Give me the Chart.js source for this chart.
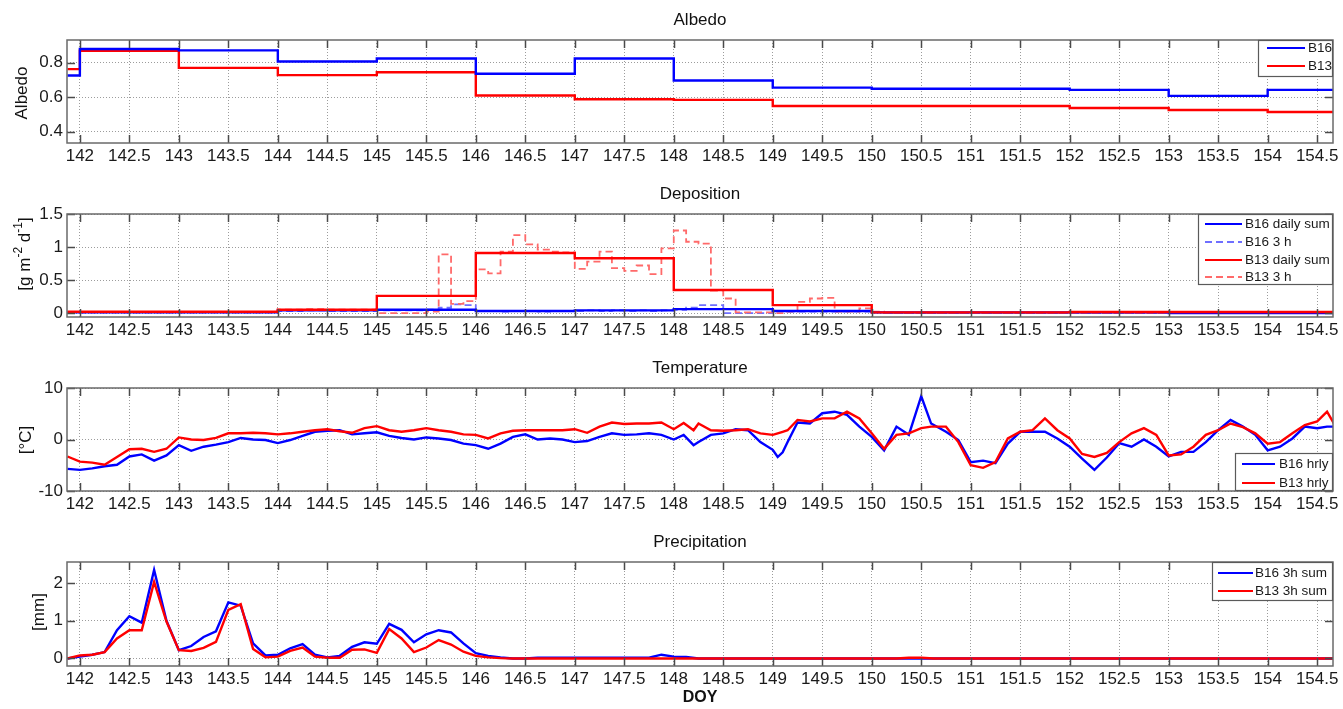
<!DOCTYPE html>
<html>
<head>
<meta charset="utf-8">
<script src="https://cdn.jsdelivr.net/npm/chart.js@4.4.1/dist/chart.umd.min.js"></script>
<style>
    body { margin: 0; background: #fff; width: 1343px; height: 709px; overflow: hidden; position: relative; }
    .panel { position: absolute; left: 0; width: 1343px; }
</style>
</head>
<body>
<div class="panel" style="top:0px"><canvas id="graficoAlbedo" width="1343" height="170"></canvas></div>
<div class="panel" style="top:174px"><canvas id="graficoDeposicion" width="1343" height="170"></canvas></div>
<div class="panel" style="top:348px"><canvas id="graficoTemperatura" width="1343" height="170"></canvas></div>
<div class="panel" style="top:522px"><canvas id="graficoPrecipitacion" width="1343" height="187"></canvas></div>
<script>
// eje x comun (DOY)
var X_MIN = 141.87, X_MAX = 154.66;
var ticksX = [142, 142.5, 143, 143.5, 144, 144.5, 145, 145.5, 146, 146.5, 147, 147.5, 148, 148.5,
    149, 149.5, 150, 150.5, 151, 151.5, 152, 152.5, 153, 153.5, 154, 154.5];

// Albedo (valor diario, escalon)
var albedoDias = [141.875, 142, 143, 144, 145, 146, 147, 148, 149, 150, 151, 152, 153, 154, 155];
var albedoB16 = [0.725, 0.878, 0.870, 0.806, 0.823, 0.735, 0.823, 0.696, 0.655, 0.648, 0.648, 0.642, 0.607, 0.642, 0.642];
var albedoB13 = [0.762, 0.868, 0.769, 0.727, 0.744, 0.609, 0.588, 0.584, 0.549, 0.549, 0.549, 0.537, 0.526, 0.514, 0.514];
var ticksAlbedo = [0.4, 0.6, 0.8];

// Deposicion: suma diaria
var depDias = [141.875, 142, 143, 144, 145, 146, 147, 148, 149, 150, 151, 152, 153, 154, 155];
var depB16Diaria = [0.01, 0.01, 0.01, 0.04, 0.05, 0.03, 0.04, 0.06, 0.03, 0.01, 0.01, 0.01, 0.0, 0.0, 0.0];
var depB13Diaria = [0.02, 0.02, 0.02, 0.05, 0.26, 0.91, 0.83, 0.35, 0.12, 0.01, 0.01, 0.015, 0.015, 0.015, 0.015];
// Deposicion: 3 h
var dep3hDias = [141.875, 144, 144.25, 144.5, 145, 145.5, 145.625, 145.75, 145.875, 146, 146.125, 146.25,
    146.375, 146.5, 146.625, 146.75, 146.875, 147, 147.125, 147.25, 147.375, 147.5, 147.625, 147.75,
    147.875, 148, 148.125, 148.25, 148.375, 148.5, 148.625, 149, 149.125, 149.25, 149.375, 149.5,
    149.625, 149.75, 149.875, 150, 150.125, 155];
var depB16_3h = [0.01, 0.03, 0.04, 0.03, 0.04, 0.05, 0.08, 0.13, 0.12, 0.03, 0.03, 0.02,
    0.03, 0.03, 0.02, 0.03, 0.03, 0.03, 0.04, 0.03, 0.04, 0.03, 0.04, 0.03,
    0.04, 0.05, 0.08, 0.12, 0.12, 0.0, 0.0, 0.03, 0.02, 0.02, 0.02, 0.02,
    0.02, 0.02, 0.02, 0.01, 0.0, 0.0];
var depB13_3h = [0.01, 0.05, 0.06, 0.05, 0.0, 0.02, 0.89, 0.14, 0.18, 0.66, 0.60, 0.93,
    1.18, 1.04, 0.96, 0.93, 0.92, 0.67, 0.78, 0.93, 0.68, 0.64, 0.72, 0.59,
    0.98, 1.25, 1.08, 1.05, 0.34, 0.22, 0.01, 0.0, 0.02, 0.17, 0.22, 0.23,
    0.02, 0.02, 0.07, 0.02, 0.0, 0.0];
var ticksDep = [0, 0.5, 1, 1.5];

// Temperatura horaria
var tempDias = [141.875, 142, 142.125, 142.25, 142.375, 142.5, 142.625, 142.75, 142.875, 143,
    143.125, 143.25, 143.375, 143.5, 143.625, 143.75, 143.875, 144, 144.125, 144.25,
    144.375, 144.5, 144.625, 144.75, 144.875, 145, 145.125, 145.25, 145.375, 145.5,
    145.625, 145.75, 145.875, 146, 146.125, 146.25, 146.375, 146.5, 146.625, 146.75,
    146.875, 147, 147.125, 147.25, 147.375, 147.5, 147.625, 147.75, 147.875, 148,
    148.1, 148.2, 148.25, 148.375, 148.5, 148.625, 148.75, 148.875, 149, 149.05,
    149.1, 149.15, 149.25, 149.375, 149.5, 149.625, 149.75, 149.875, 150, 150.125,
    150.25, 150.375, 150.5, 150.6, 150.75, 150.875, 151, 151.125, 151.25, 151.375,
    151.5, 151.625, 151.75, 151.875, 152, 152.125, 152.25, 152.375, 152.5, 152.625,
    152.75, 152.875, 153, 153.125, 153.25, 153.375, 153.5, 153.625, 153.75, 153.875,
    154, 154.125, 154.25, 154.375, 154.5, 154.6, 154.67];
var tempB16 = [-5.7, -5.9, -5.6, -5.2, -4.9, -3.3, -2.9, -4.1, -3.1, -1.1,
    -2.2, -1.4, -1.0, -0.5, 0.3, 0.0, -0.1, -0.7, -0.1, 0.7,
    1.5, 1.7, 1.8, 1.0, 1.2, 1.4, 0.7, 0.3, 0.0, 0.4,
    0.2, -0.1, -0.8, -1.1, -1.8, -0.8, 0.5, 1.0, 0.0, 0.2,
    0.0, -0.5, -0.3, 0.5, 1.2, 0.9, 1.0, 1.2, 0.9, 0.0,
    0.9, -1.1, -0.5, 0.9, 1.2, 2.0, 1.8, -0.5, -2.0, -3.4,
    -2.5, -0.5, 3.3, 3.1, 5.1, 5.4, 4.8, 2.5, 0.5, -2.1,
    2.5, 0.9, 8.4, 3.1, 1.5, -0.1, -4.4, -4.1, -4.6, -0.8,
    1.5, 1.5, 1.5, 0.2, -1.4, -3.7, -5.9, -3.5, -0.7, -1.4,
    0.0, -1.4, -3.3, -2.4, -2.4, -0.5, 1.8, 3.8, 2.5, 0.9,
    -2.1, -1.4, 0.2, 2.5, 2.2, 2.5, 2.5];
var tempB13 = [-3.3, -4.3, -4.5, -4.9, -3.4, -1.9, -1.8, -2.4, -1.8, 0.4,
    0.0, -0.1, 0.3, 1.2, 1.2, 1.3, 1.2, 1.0, 1.2, 1.5,
    1.8, 2.0, 1.6, 1.3, 2.2, 2.6, 1.8, 1.5, 1.8, 2.2,
    1.8, 1.5, 1.0, 0.9, 0.2, 1.2, 1.7, 1.8, 1.8, 1.8,
    1.8, 2.0, 1.3, 2.5, 3.3, 3.0, 3.1, 3.1, 3.3, 2.0,
    3.2, 1.8, 3.1, 1.8, 1.7, 1.8, 2.0, 1.2, 0.9, 1.2,
    1.5, 1.8, 3.8, 3.5, 4.1, 4.1, 5.4, 4.1, 1.2, -1.8,
    0.9, 1.2, 2.2, 2.5, 2.5, -0.5, -5.0, -5.5, -4.4, 0.2,
    1.5, 1.8, 4.1, 1.8, 0.2, -2.8, -3.4, -2.6, -0.5, 1.2,
    2.2, 0.9, -3.1, -2.9, -1.4, 0.9, 1.8, 3.1, 2.4, 1.2,
    -0.8, -0.5, 1.2, 2.8, 3.5, 5.4, 3.1];
var ticksTemp = [-10, 0, 10];

// Precipitacion, suma 3 h
var precDias = [141.875, 142, 142.125, 142.25, 142.375, 142.5, 142.625, 142.75, 142.875, 143,
    143.125, 143.25, 143.375, 143.5, 143.625, 143.75, 143.875, 144, 144.125, 144.25,
    144.375, 144.5, 144.625, 144.75, 144.875, 145, 145.125, 145.25, 145.375, 145.5,
    145.625, 145.75, 145.875, 146, 146.125, 146.25, 146.375, 146.5, 146.625, 146.75,
    147.75, 147.875, 148, 148.125, 148.25, 148.375, 150.25, 150.375, 150.5, 150.625, 154.75];
var precB16 = [0.0, 0.05, 0.1, 0.17, 0.75, 1.12, 0.95, 2.35, 1.0, 0.22,
    0.33, 0.57, 0.72, 1.49, 1.4, 0.4, 0.08, 0.1, 0.27, 0.38,
    0.1, 0.03, 0.07, 0.31, 0.43, 0.39, 0.92, 0.76, 0.43, 0.64,
    0.75, 0.69, 0.4, 0.14, 0.07, 0.03, 0.0, 0.0, 0.02, 0.02,
    0.02, 0.1, 0.05, 0.04, 0.0, 0.0, 0.0, 0.0, 0.0, 0.0, 0.0];
var precB13 = [0.0, 0.08, 0.1, 0.17, 0.53, 0.75, 0.75, 2.03, 0.98, 0.22,
    0.2, 0.28, 0.44, 1.29, 1.44, 0.25, 0.03, 0.05, 0.2, 0.29,
    0.05, 0.02, 0.02, 0.23, 0.24, 0.15, 0.78, 0.53, 0.17, 0.29,
    0.49, 0.37, 0.18, 0.07, 0.03, 0.01, 0.0, 0.0, 0.0, 0.0,
    0.0, 0.0, 0.0, 0.0, 0.0, 0.0, 0.0, 0.02, 0.02, 0.0, 0.0];
var ticksPrec = [0, 1, 2];

var AZUL = '#0000ff', ROJO = '#ff0000', AZUL_CLARO = '#6f6fff', ROJO_CLARO = '#ff6a6a';
var FUENTE = 'Arial, "Liberation Sans", sans-serif';

function puntos(xs, ys) {
    return xs.map(function (x, i) { return { x: x, y: ys[i] }; });
}

function serie(etiqueta, xs, ys, color, extra) {
    var ds = {
        label: etiqueta,
        data: puntos(xs, ys),
        borderColor: color,
        borderWidth: 2.4,
        pointRadius: 0,
        tension: 0,
        fill: false
    };
    for (var k in extra) ds[k] = extra[k];
    return ds;
}

function linea(ctx, x1, y1, x2, y2) {
    ctx.beginPath();
    ctx.moveTo(x1, y1);
    ctx.lineTo(x2, y2);
    ctx.stroke();
}

// marco estilo MATLAB: caja, marcas hacia dentro, titulos y leyenda
var marcoMatlab = {
    id: 'marco',
    afterDatasetsDraw: function (chart, args, op) {
        var ctx = chart.ctx, a = chart.chartArea;
        var sx = chart.scales.x, sy = chart.scales.y;
        ctx.save();
        ctx.strokeStyle = '#4a4a4a';
        ctx.lineWidth = 1.5;
        sx.ticks.forEach(function (t) {
            var px = Math.round(sx.getPixelForValue(t.value)) + 0.5;
            linea(ctx, px, a.top, px, a.top + 8);
            linea(ctx, px, a.bottom, px, a.bottom - 8);
        });
        sy.ticks.forEach(function (t) {
            var py = Math.round(sy.getPixelForValue(t.value)) + 0.5;
            linea(ctx, a.left, py, a.left + 8, py);
            linea(ctx, a.right, py, a.right - 8, py);
        });
        ctx.strokeStyle = '#6a6a6a';
        ctx.strokeRect(a.left, a.top, a.right - a.left, a.bottom - a.top);

        // leyenda
        var ley = op.leyenda;
        var lx = a.right - ley.ancho;
        var ly = ley.abajo ? a.bottom - ley.alto : a.top;
        ctx.fillStyle = '#fff';
        ctx.fillRect(lx, ly, ley.ancho, ley.alto);
        ctx.strokeStyle = '#5a5a5a';
        ctx.lineWidth = 1.2;
        ctx.strokeRect(lx + 0.5, ly + 0.5, ley.ancho - 1, ley.alto - 1);
        ctx.font = '13.5px ' + FUENTE;
        ctx.textBaseline = 'middle';
        ctx.textAlign = 'left';
        chart.data.datasets.forEach(function (ds, i) {
            var fy = ly + ley.filas[i];
            ctx.strokeStyle = ds.borderColor;
            ctx.lineWidth = 2.2;
            ctx.setLineDash(ds.borderDash || []);
            linea(ctx, lx + ley.linea[0], fy, lx + ley.linea[1], fy);
            ctx.setLineDash([]);
            ctx.fillStyle = '#1a1a1a';
            ctx.fillText(ds.label, lx + ley.texto, fy);
        });

        // titulo del panel
        ctx.fillStyle = '#111';
        ctx.font = '17px ' + FUENTE;
        ctx.textAlign = 'center';
        ctx.fillText(op.titulo, (a.left + a.right) / 2, a.top - 20);

        // titulo eje y (con superindices si hace falta)
        ctx.save();
        ctx.translate(op.yTitulo.x, op.yTitulo.y);
        ctx.rotate(-Math.PI / 2);
        var partes = op.yTitulo.partes;
        var total = 0;
        partes.forEach(function (p) {
            ctx.font = (p.sup ? '12px ' : '17px ') + FUENTE;
            total += ctx.measureText(p.t).width;
        });
        var cx = -total / 2;
        ctx.textAlign = 'left';
        partes.forEach(function (p) {
            ctx.font = (p.sup ? '12px ' : '17px ') + FUENTE;
            ctx.fillText(p.t, cx, p.sup ? -6 : 0);
            cx += ctx.measureText(p.t).width;
        });
        ctx.restore();

        if (op.xTitulo) {
            ctx.font = 'bold 16px ' + FUENTE;
            ctx.textAlign = 'center';
            ctx.fillText(op.xTitulo, (a.left + a.right) / 2, op.xTituloY);
        }
        ctx.restore();
    }
};

function opcionesPanel(p) {
    var rejilla = { color: '#9c9c9c', lineWidth: 1, drawTicks: false };
    var borde = { display: false, dash: [1, 2] };
    return {
        responsive: false,
        animation: false,
        devicePixelRatio: 1,
        layout: { padding: { top: 40, right: 10, bottom: 0, left: 0 } },
        plugins: {
            legend: { display: false },
            tooltip: { enabled: false },
            marco: p
        },
        scales: {
            x: {
                type: 'linear',
                min: X_MIN,
                max: X_MAX,
                afterBuildTicks: function (eje) { eje.ticks = ticksX.map(function (v) { return { value: v }; }); },
                afterFit: function (eje) { eje.height = p.altoX; },
                ticks: {
                    autoSkip: false, maxRotation: 0, padding: 3, color: '#1a1a1a',
                    font: { family: FUENTE, size: 17 },
                    callback: function (v) { return String(v); }
                },
                grid: rejilla,
                border: borde
            },
            y: {
                type: 'linear',
                min: p.yMin,
                max: p.yMax,
                afterBuildTicks: function (eje) { eje.ticks = p.ticksY.map(function (v) { return { value: v }; }); },
                afterFit: function (eje) { eje.width = 67; },
                ticks: {
                    padding: 4, color: '#1a1a1a',
                    font: { family: FUENTE, size: 17 },
                    callback: function (v) { return String(v); }
                },
                grid: rejilla,
                border: borde
            }
        }
    };
}

new Chart(document.getElementById('graficoAlbedo'), {
    type: 'line',
    data: {
        datasets: [
            serie('B16', albedoDias, albedoB16, AZUL, { stepped: 'before' }),
            serie('B13', albedoDias, albedoB13, ROJO, { stepped: 'before' })
        ]
    },
    options: opcionesPanel({
        titulo: 'Albedo', altoX: 27, yMin: 0.335, yMax: 0.93, ticksY: ticksAlbedo,
        yTitulo: { x: 22, y: 93, partes: [{ t: 'Albedo' }] },
        leyenda: { ancho: 75, alto: 37, filas: [8, 26], linea: [9, 47], texto: 50 }
    }),
    plugins: [marcoMatlab]
});

new Chart(document.getElementById('graficoDeposicion'), {
    type: 'line',
    data: {
        datasets: [
            serie('B16 daily sum', depDias, depB16Diaria, AZUL, { stepped: 'before', order: 1 }),
            serie('B16 3 h', dep3hDias, depB16_3h, AZUL_CLARO, { stepped: 'before', borderDash: [7, 4], borderWidth: 1.8, order: 3 }),
            serie('B13 daily sum', depDias, depB13Diaria, ROJO, { stepped: 'before', order: 0 }),
            serie('B13 3 h', dep3hDias, depB13_3h, ROJO_CLARO, { stepped: 'before', borderDash: [7, 4], borderWidth: 1.8, order: 2 })
        ]
    },
    options: opcionesPanel({
        titulo: 'Deposition', altoX: 27, yMin: -0.06, yMax: 1.5, ticksY: ticksDep,
        yTitulo: { x: 25, y: 80, partes: [{ t: '[g m' }, { t: '-2', sup: true }, { t: ' d' }, { t: '-1', sup: true }, { t: ']' }] },
        leyenda: { ancho: 135, alto: 71, filas: [10, 28, 46, 63], linea: [7, 44], texto: 47 }
    }),
    plugins: [marcoMatlab]
});

new Chart(document.getElementById('graficoTemperatura'), {
    type: 'line',
    data: {
        datasets: [
            serie('B16 hrly', tempDias, tempB16, AZUL, { order: 1 }),
            serie('B13 hrly', tempDias, tempB13, ROJO, { order: 0 })
        ]
    },
    options: opcionesPanel({
        titulo: 'Temperature', altoX: 27, yMin: -10, yMax: 10, ticksY: ticksTemp,
        yTitulo: { x: 26, y: 92, partes: [{ t: '[°C]' }] },
        leyenda: { ancho: 98, alto: 38, abajo: true, filas: [11, 30], linea: [7, 40], texto: 44 }
    }),
    plugins: [marcoMatlab]
});

new Chart(document.getElementById('graficoPrecipitacion'), {
    type: 'line',
    data: {
        datasets: [
            serie('B16 3h sum', precDias, precB16, AZUL, { order: 1 }),
            serie('B13 3h sum', precDias, precB13, ROJO, { order: 0 })
        ]
    },
    options: opcionesPanel({
        titulo: 'Precipitation', altoX: 43, yMin: -0.2, yMax: 2.56, ticksY: ticksPrec,
        yTitulo: { x: 39, y: 90, partes: [{ t: '[mm]' }] },
        leyenda: { ancho: 121, alto: 39, filas: [11, 29], linea: [6, 41], texto: 43 },
        xTitulo: 'DOY', xTituloY: 176
    }),
    plugins: [marcoMatlab]
});
</script>
</body>
</html>
